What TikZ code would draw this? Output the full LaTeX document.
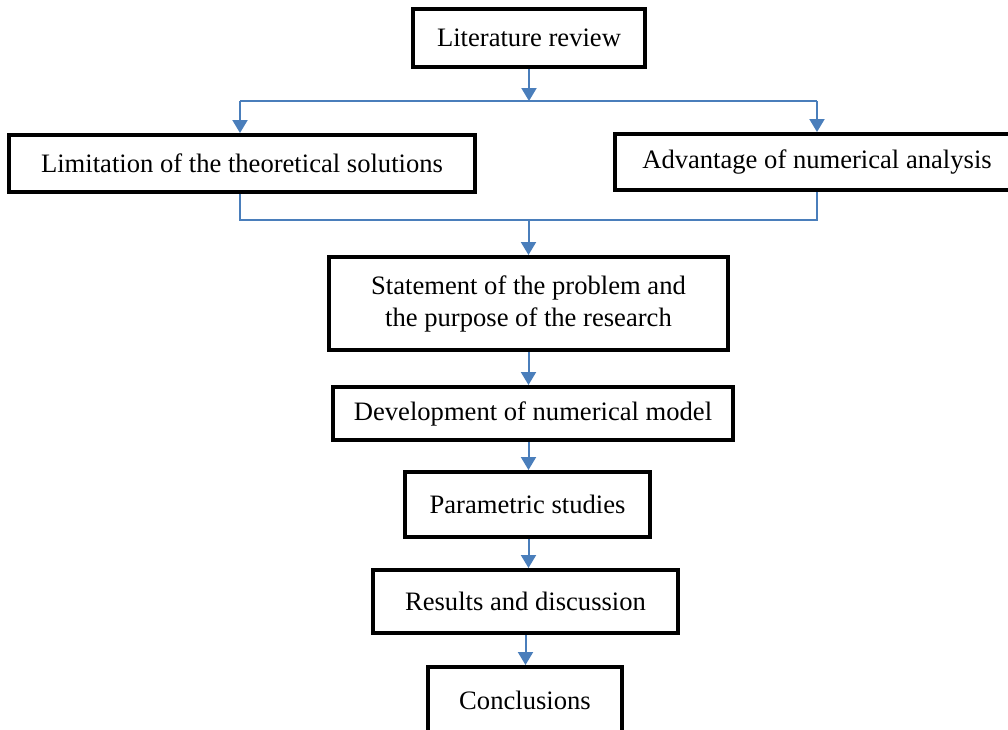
\documentclass[tikz,border=0pt]{standalone}
\usepackage{fontspec}
\setmainfont{Liberation Serif}
\usetikzlibrary{arrows.meta,calc}
\definecolor{lineblue}{RGB}{74,126,187}
\begin{document}
\begin{tikzpicture}[x=1pt,y=-1pt,
  box/.style={draw=black,line width=4pt,fill=white,rectangle,inner sep=0pt,align=center,
    font=\fontsize{26.6}{32}\selectfont},
  conn/.style={draw=lineblue,line width=2pt},
  arr/.style={conn,-{Triangle[width=15pt,length=13pt]}}]
\useasboundingbox (0,0) rectangle (1008,729);
\node[box,minimum width=232pt,minimum height=58pt] (lit) at (529,38) {Literature review};
\node[box,minimum width=466pt,minimum height=57pt] (lim) at (242,163.5) {Limitation of the theoretical solutions};
\node[box,minimum width=428pt,minimum height=56pt] (adv) at (829,162) {Advantage of numerical analysis\hspace*{24pt}};
\node[box,minimum width=399pt,minimum height=93pt] (stmt) at (528.5,303.5) {Statement of the problem and\\the purpose of the research};
\node[box,minimum width=400pt,minimum height=53pt] (dev) at (533,413.5) {Development of numerical model};
\node[box,minimum width=245pt,minimum height=65pt] (par) at (527.5,504.5) {Parametric studies};
\node[box,minimum width=305pt,minimum height=63pt] (res) at (525.5,601.5) {Results and discussion};
\node[box,minimum width=194pt,minimum height=66pt] (conc) at (525,700) {Conclusions};
\coordinate (t1) at (240,101);
\coordinate (t2) at (817,101);
\coordinate (b1) at (240,220);
\coordinate (b2) at (817,220);
\draw[arr] (lit.south) -- (lit.south |- t1);
\draw[conn] (t1) -- (t2);
\draw[arr] (t1) -- (t1 |- lim.north);
\draw[arr] (t2) -- (t2 |- adv.north);
\draw[conn] (b1 |- lim.south) -- (b1) -- (b2) -- (b2 |- adv.south);
\draw[arr] (b1 -| stmt.north) -- (stmt.north);
\draw[arr] (stmt.south) -- (stmt.south |- dev.north);
\draw[arr] (stmt.south |- dev.south) -- (stmt.south |- par.north);
\draw[arr] (stmt.south |- par.south) -- (stmt.south |- res.north);
\draw[arr] (res.south) -- (res.south |- conc.north);
\end{tikzpicture}
\end{document}
